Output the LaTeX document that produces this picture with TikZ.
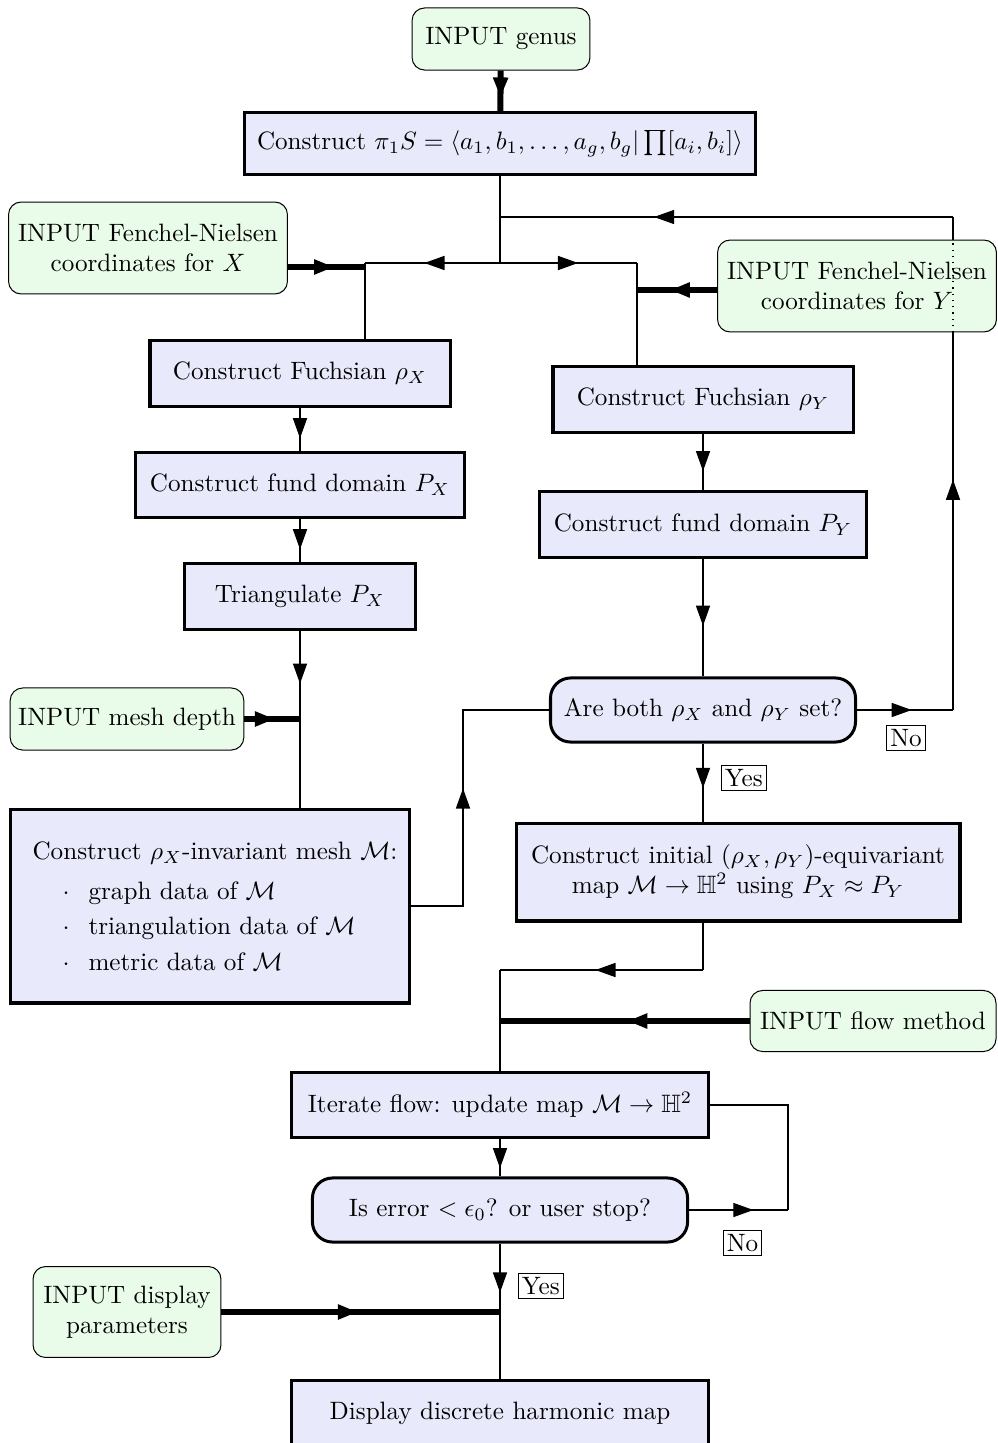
\documentclass[tikz,border=0pt]{standalone}
\usepackage{amsmath,amssymb}
\usetikzlibrary{arrows.meta}
\usetikzlibrary{decorations.markings}

\definecolor{procblue}{RGB}{233,233,252}
\definecolor{inputgreen}{RGB}{233,252,233}

\tikzset{
  process/.style={draw, very thick, fill=procblue, inner sep=2pt, align=center},
  decision/.style={process, rounded corners=8pt},
  inputbox/.style={draw, thin, fill=inputgreen, rounded corners=5pt, inner sep=2pt, align=center},
  answer/.style={draw, thin, inner sep=1.5pt, fill=white},
  feed/.style={line width=2.4pt},
  arr/.style={postaction={decorate}, decoration={markings, mark=at position #1 with {\arrow{Triangle[length=8pt,width=5.6pt]}}}},
}

\begin{document}
\begin{tikzpicture}[x=0.398pt, y=-0.398pt, line width=0.5pt]
\useasboundingbox (0,0) rectangle (997,1443);

\node[inputbox, minimum width=70.8pt, minimum height=24.7pt] (genus) at (501,39) {INPUT genus};
\node[process, minimum width=203pt, minimum height=24.3pt] (pione) at (500,143.5) {Construct $\pi_1S=\langle a_1,b_1,\ldots,a_g,b_g|\prod[a_i,b_i]\rangle$};
\node[inputbox, minimum width=111pt, minimum height=36.6pt] (fnx) at (148,248) {INPUT Fenchel-Nielsen\\coordinates for $X$};
\node[inputbox, minimum width=111pt, minimum height=36.6pt] (fny) at (857,286) {INPUT Fenchel-Nielsen\\coordinates for $Y$};
\node[process, minimum width=119.4pt, minimum height=25.9pt] (fuchsx) at (300,373.5) {Construct Fuchsian $\rho_X$};
\node[process, minimum width=119.4pt, minimum height=25.9pt] (fuchsy) at (703,399.5) {Construct Fuchsian $\rho_Y$};
\node[process, minimum width=131.3pt, minimum height=25.5pt] (fundx) at (300,485) {Construct fund domain $P_X$};
\node[process, minimum width=130pt, minimum height=25.9pt] (fundy) at (703,524.5) {Construct fund domain $P_Y$};
\node[process, minimum width=92pt, minimum height=25.9pt] (tri) at (300,596.5) {Triangulate $P_X$};
\node[inputbox, minimum width=93pt, minimum height=24.7pt] (depth) at (127,719) {INPUT mesh depth};
\node[decision, minimum width=121.4pt, minimum height=25.5pt] (both) at (703,710) {Are both $\rho_X$ and $\rho_Y$ set?};
\node[process, minimum width=159pt, minimum height=77.2pt, align=left] (mesh) at (210,906) {\hspace*{4pt}Construct $\rho_X$-invariant mesh $\mathcal{M}$:\\[4pt]
  \hspace*{16pt}$\cdot$\hspace{7.5pt}graph data of $\mathcal{M}$\\[2pt]
  \hspace*{16pt}$\cdot$\hspace{7.5pt}triangulation data of $\mathcal{M}$\\[2pt]
  \hspace*{16pt}$\cdot$\hspace{7.5pt}metric data of $\mathcal{M}$};
\node[process, minimum width=176.7pt, minimum height=39pt] (initial) at (738,872) {Construct initial $(\rho_X,\rho_Y)$-equivariant\\map $\mathcal{M}\to\mathbb{H}^2$ using $P_X\approx P_Y$};
\node[inputbox, minimum width=97.9pt, minimum height=24.3pt] (method) at (873,1021) {INPUT flow method};
\node[process, minimum width=165.6pt, minimum height=25.5pt] (iterate) at (500,1105) {Iterate flow: update map $\mathcal{M}\to\mathbb{H}^2$};
\node[decision, minimum width=149.3pt, minimum height=25.5pt] (error) at (500,1210) {Is error $<\epsilon_0$? or user stop?};
\node[inputbox, minimum width=74.8pt, minimum height=36.2pt] (display) at (127,1312) {INPUT display\\parameters};
\node[process, minimum width=165.6pt, minimum height=25.5pt] (harmonic) at (500,1413) {Display discrete harmonic map};

\coordinate (split) at (500,263);
\coordinate (splitL) at (365,263);
\coordinate (splitR) at (637,263);
\coordinate (fnxin) at (365,267);
\coordinate (fnyin) at (637,290);
\coordinate (back) at (500,217);
\coordinate (loopB) at (953,710);
\coordinate (loopT) at (953,217);
\coordinate (depthin) at (300,719);
\coordinate (meshup) at (463,710);
\coordinate (merge) at (500,970);
\coordinate (errR) at (788,1210);

\draw[feed, arr=0.66] (genus) -- (pione);
\draw (pione) -- (split);
\draw[arr=0.56] (split) -- (splitL);
\draw (splitL) -- (splitL |- fuchsx.north);
\draw[arr=0.57] (split) -- (splitR);
\draw (splitR) -- (splitR |- fuchsy.north);
\draw[feed, arr=0.6] (fnx.east |- fnxin) -- (fnxin);
\draw[feed, arr=0.59] (fny.west |- fnyin) -- (fnyin);

\draw[arr=0.57] (both.east) -- (loopB) node[answer, pos=0.51, below=6pt] {No};
\draw[arr=0.61] (loopB) -- (loopT |- fny.south);
\draw[dotted] (loopT |- fny.south) -- (loopT |- fny.north);
\draw (loopT |- fny.north) -- (loopT);
\draw[arr=0.66] (loopT) -- (back);

\draw[arr=0.7] (fuchsx) -- (fundx);
\draw[arr=0.7] (fundx) -- (tri);
\draw[arr=0.6] (tri) -- (depthin);
\draw (depthin) -- (depthin |- mesh.north);
\draw[feed, arr=0.55] (depth) -- (depthin);

\draw[arr=0.66] (fuchsy) -- (fundy);
\draw[arr=0.57] (fundy) -- (both);
\draw (mesh.east) -| (meshup) -- (both);
\draw[arr=0.6] (mesh.east -| meshup) -- (meshup);
\draw[arr=0.57] (both) -- (both |- initial.north) node[answer, pos=0.44, right=7pt] {Yes};

\draw (initial.south -| both) -- (both |- merge);
\draw[arr=0.53] (both |- merge) -- (merge);
\draw (merge) -- (iterate);
\draw[feed, arr=0.49] (method.west) -- (method.west -| merge);

\draw[arr=0.78] (iterate) -- (error);
\draw[arr=0.65] (error.east) -- (errR) node[answer, pos=0.54, below=8pt] {No};
\draw (errR) |- (iterate.east);
\draw[arr=0.36] (error) -- (harmonic) node[answer, pos=0.31, right=7pt] {Yes};
\draw[feed, arr=0.49] (display.east) -- (display.east -| error);
\end{tikzpicture}
\end{document}
